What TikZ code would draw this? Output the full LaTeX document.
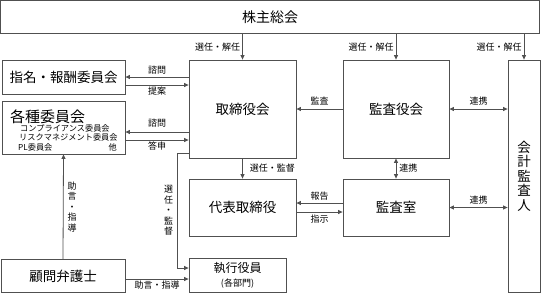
\documentclass[tikz,border=0pt]{standalone}
\usepackage{fontspec}
\setmainfont{Noto Sans CJK JP}
\usetikzlibrary{arrows.meta}
\definecolor{lc}{RGB}{80,80,80}
\begin{document}
\begin{tikzpicture}[x=1pt,y=-1pt,
  box/.style={draw=lc, line width=0.8pt, inner sep=0pt, font=\fontsize{13.5}{15}\selectfont},
  arr/.style={draw=lc, line width=0.8pt, -{Triangle[length=4.5pt,width=4pt]}},
  arrb/.style={draw=lc, line width=0.8pt, {Triangle[length=4.5pt,width=4pt]}-{Triangle[length=4.5pt,width=4pt]}},
  lbl/.style={font=\fontsize{9}{10}\selectfont, inner sep=1pt, text=black},
  vlbl/.style={font=\fontsize{9}{10.5}\selectfont, inner sep=1pt, align=center, text=black},
  small/.style={font=\fontsize{8.2}{9}\selectfont, inner sep=0pt}]
\useasboundingbox (0,0) rectangle (541,293);

% boxes
\node[box, minimum width=539pt, minimum height=33pt, font=\fontsize{14}{16}\selectfont] (kabu) at (270,17) {株主総会};
\node[box, minimum width=123pt, minimum height=34pt] (shimei) at (63.5,77) {指名・報酬委員会};
\node[box, minimum width=123pt, minimum height=53pt] (kakushu) at (63.5,127.5) {};
\node[anchor=west, font=\fontsize{15}{16}\selectfont, inner sep=0pt] (kt) at (10,116.5) {各種委員会};
\node[anchor=west, small] (k1) at (20,128) {コンプライアンス委員会};
\node[anchor=west, small] (k2) at (19,137.5) {リスクマネジメント委員会};
\node[anchor=west, small] (k3) at (18,147) {PL委員会};
\node[anchor=east, small] (k4) at (117,147) {他};
\node[box, minimum width=107pt, minimum height=98pt] (tori) at (242.5,109) {取締役会};
\node[box, minimum width=106pt, minimum height=98pt] (kansa) at (396,109) {監査役会};
\node[box, minimum width=32pt, minimum height=232pt, align=center, font=\fontsize{13.5}{14.5}\selectfont] (kaikei) at (524,176) {会\\計\\監\\査\\人};
\node[box, minimum width=107pt, minimum height=57pt] (daihyo) at (242.5,207.5) {代表取締役};
\node[box, minimum width=106pt, minimum height=57pt] (shitsu) at (396,207.5) {監査室};
\node[box, minimum width=124pt, minimum height=33.5pt] (komon) at (63,276) {顧問弁護士};
\node[box, minimum width=97pt, minimum height=34.5pt, align=center, font=\fontsize{12}{14}\selectfont] (shikko) at (237.5,275.5) {執行役員\\{\fontsize{9}{10}\selectfont (各部門)}};

% connectors
\draw[arr] (kabu.south -| tori) -- node[lbl, left=1pt] {選任・解任} (tori.north);
\draw[arr] (kabu.south -| kansa) -- node[lbl, left=1pt] {選任・解任} (kansa.north);
\draw[arr] (kabu.south -| kaikei) -- node[lbl, left=1pt] {選任・解任} (kaikei.north);

\draw[arr] (tori.west |- 0,77) -- node[lbl, above=1pt] {諮問} (shimei.east |- 0,77);
\draw[arr] (shimei.east |- 0,85) -- node[lbl, below=1pt] {提案} (tori.west |- 0,85);
\draw[arr] (tori.west |- 0,132) -- node[lbl, above=3pt] {諮問} (kakushu.east |- 0,132);
\draw[arr] (kakushu.east |- 0,140) -- node[lbl, below=0pt] {答申} (tori.west |- 0,140);

\draw[arr] (kansa.west) -- node[lbl, above=3pt] {監査} (tori.east);
\draw[arrb] (kansa.east) -- node[lbl, above=2pt] {連携} (kaikei.west |- kansa.east);
\draw[arrb] (kansa.south) -- node[lbl, right=2pt] {連携} (shitsu.north);
\draw[arrb] (shitsu.east) -- node[lbl, above=2pt] {連携} (kaikei.west |- shitsu.east);

\draw[arr] (tori.south) -- node[lbl, right=6pt] {選任・監督} (daihyo.north);
\draw[arr] (shitsu.west |- 0,203) -- node[lbl, above=1pt] {報告} (daihyo.east |- 0,203);
\draw[arr] (daihyo.east |- 0,212) -- node[lbl, below=2pt] {指示} (shitsu.west |- 0,212);

\draw[arr] (tori.west |- 0,153) -- ++(-11,0) |- node[vlbl, pos=0.25, left=3pt] {選\\任\\・\\監\\督} (shikko.west |- 0,268);
\draw[arr] (komon.north) -- node[vlbl, right=3pt] {助\\言\\・\\指\\導} (kakushu.south);
\draw[arr] (komon.east |- 0,279) -- node[lbl, below=1pt] {助言・指導} (shikko.west |- 0,279);
\end{tikzpicture}
\end{document}
